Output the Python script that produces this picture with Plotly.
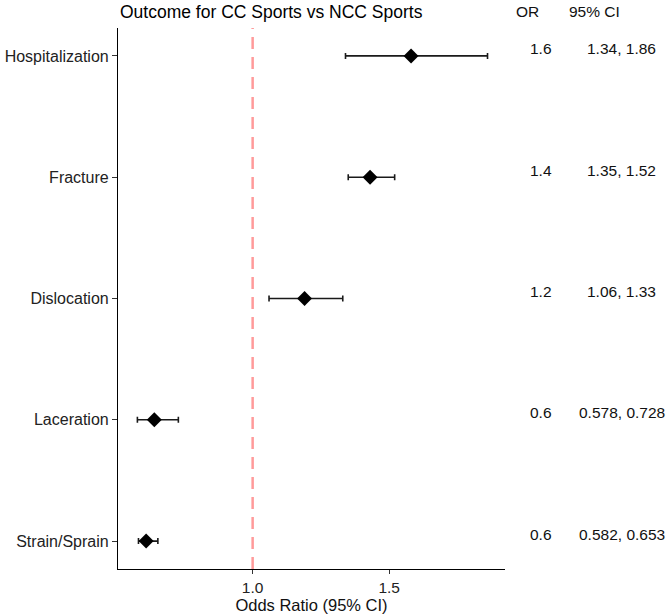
import plotly.graph_objects as go

outcomes = ["Hospitalization", "Fracture", "Dislocation", "Laceration", "Strain/Sprain"]
odds_ratio = [1.58, 1.43, 1.19, 0.64, 0.61]
ci_low = [1.34, 1.35, 1.06, 0.578, 0.582]
ci_high = [1.86, 1.52, 1.33, 0.728, 0.653]
or_labels = ["1.6", "1.4", "1.2", "0.6", "0.6"]
ci_labels = ["1.34, 1.86", "1.35, 1.52", "1.06, 1.33", "0.578, 0.728", "0.582, 0.653"]
x_ticks = [1.0, 1.5]
x_tick_text = ["1.0", "1.5"]

FONT = "Liberation Sans, Arial, sans-serif"

W, H = 669, 614
ML, MR, MT, MB = 118, 164, 28, 45
plot_h = H - MT - MB

fig = go.Figure()
fig.add_trace(go.Scatter(
    x=odds_ratio, y=outcomes, mode="markers",
    marker=dict(symbol="diamond", size=11.5, color="black"),
    error_x=dict(type="data", symmetric=False,
                 array=[h - o for h, o in zip(ci_high, odds_ratio)],
                 arrayminus=[o - l for o, l in zip(odds_ratio, ci_low)],
                 color="#1a1a1a", thickness=1.6, width=3),
    showlegend=False, hoverinfo="skip",
))

fig.add_shape(type="line", xref="x", yref="paper", x0=1.0, x1=1.0, y0=0, y1=1,
              line=dict(color="#FF9A9A", width=2.5, dash="12px,8px"), layer="below")

OR_X, CI_X = 1.094, 1.302
annotations = []
for name, o_t, c_t in zip(outcomes, or_labels, ci_labels):
    annotations.append(dict(x=OR_X, xref="paper", y=name, yref="y", text=o_t,
                            showarrow=False, xanchor="center", yanchor="middle", yshift=7,
                            font=dict(size=15.5, color="#111", family=FONT)))
    annotations.append(dict(x=CI_X, xref="paper", y=name, yref="y", text=c_t,
                            showarrow=False, xanchor="center", yanchor="middle", yshift=7,
                            font=dict(size=15.5, color="#111", family=FONT)))
head_y = 1 + (MT - 11) / plot_h
annotations.append(dict(x=OR_X, xref="paper", y=head_y, yref="paper", yanchor="middle",
                        text="OR", showarrow=False, font=dict(size=15.5, color="#111", family=FONT)))
annotations.append(dict(x=CI_X, xref="paper", y=head_y, yref="paper", yanchor="middle",
                        text="95% CI", showarrow=False, font=dict(size=15.5, color="#111", family=FONT)))
annotations.append(dict(x=0, xref="paper", xanchor="left", y=1 + (MT - 12) / plot_h, yref="paper",
                        yanchor="middle", text="Outcome for CC Sports vs NCC Sports", showarrow=False,
                        font=dict(size=17.5, color="black", family=FONT)))

fig.update_layout(
    width=W, height=H,
    margin=dict(l=ML, r=MR, t=MT, b=MB, autoexpand=False),
    paper_bgcolor="white", plot_bgcolor="white",
    font=dict(family=FONT, size=16, color="black"),
    annotations=annotations,
    xaxis=dict(range=[0.507, 1.924], tickvals=x_ticks, ticktext=x_tick_text,
               showline=True, linecolor="black", linewidth=1.2, showgrid=False, zeroline=False,
               ticks="outside", ticklen=4, tickcolor="#333", automargin=False,
               tickfont=dict(size=15.5, color="#222"),
               title=dict(text="Odds Ratio (95% CI)", font=dict(size=16.5, color="#111"), standoff=0)),
    yaxis=dict(categoryorder="array", categoryarray=outcomes, range=[4.23, -0.23],
               showline=True, linecolor="black", linewidth=1.2, showgrid=False, zeroline=False,
               ticks="outside", ticklen=5, tickcolor="#333", automargin=False,
               tickfont=dict(size=16, color="#222")),
)

fig.write_html("out.html", config={"displayModeBar": False},
               post_script="document.body.style.margin='0';document.body.style.overflow='hidden';")
